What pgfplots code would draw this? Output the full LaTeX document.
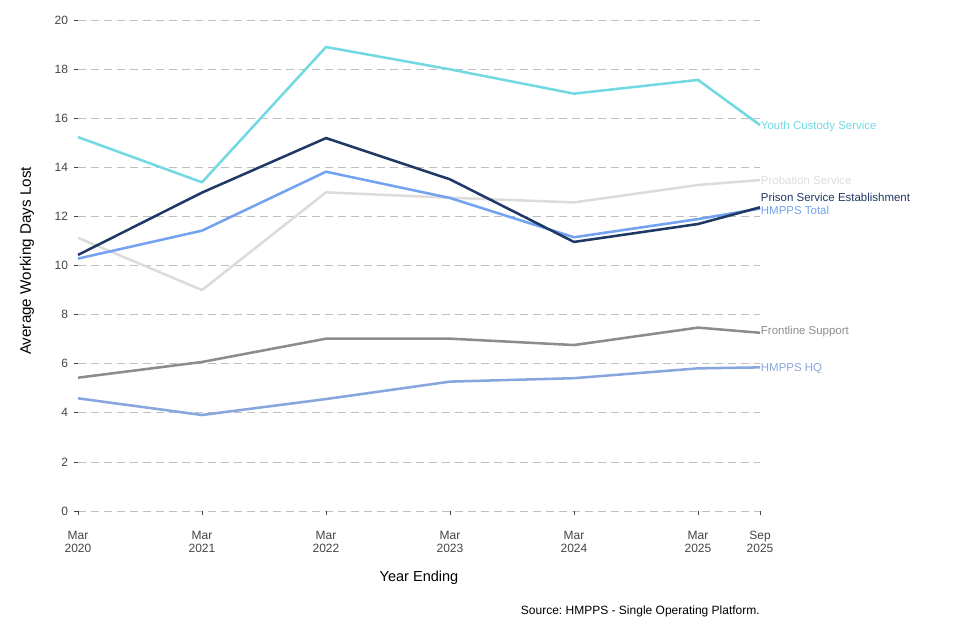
\documentclass[border=0pt]{standalone}
\usepackage{fontspec}
\setmainfont{Liberation Sans}
\usepackage{pgfplots}
\pgfplotsset{compat=1.18}
\frenchspacing

\definecolor{youth}{HTML}{72D9E2}
\definecolor{prison}{HTML}{1F3864}
\definecolor{total}{HTML}{72A2F0}
\definecolor{probation}{HTML}{DCDCDC}
\definecolor{frontline}{HTML}{8C8C8C}
\definecolor{hq}{HTML}{88A6DE}
\definecolor{ticktext}{HTML}{444444}

\begin{document}
\begin{tikzpicture}
\path[use as bounding box] (0,0) rectangle (720pt,480pt);
\begin{axis}[
    at={(58.5pt,96.75pt)}, anchor=south west,
    scale only axis,
    width=511.5pt, height=368.25pt,
    xmin=0, xmax=5.5, ymin=0, ymax=20,
    axis lines=left,
    axis line style={draw=none},
    clip=false,
    xtick={0,1,2,3,4,5,5.5},
    xticklabels={{Mar\\2020},{Mar\\2021},{Mar\\2022},{Mar\\2023},{Mar\\2024},{Mar\\2025},{Sep\\2025}},
    xticklabel style={align=center, yshift=-8.5pt, font=\fontsize{9}{10}\selectfont, text=ticktext},
    ytick={0,2,...,20},
    yticklabel style={xshift=-1pt, font=\fontsize{9}{10}\selectfont, text=ticktext},
    /pgf/number format/assume math mode=true,
    tick align=outside,
    major tick length=3pt,
    tick style={draw=ticktext, line width=0.6pt},
    ymajorgrids,
    grid style={draw=gray!50, line width=0.6pt, dash pattern=on 6pt off 3.75pt},
    every axis plot/.append style={line width=1.9pt, line join=round},
]

\addplot[probation] coordinates {
    (0,11.13) (1,9.00) (2,12.98) (3,12.76) (4,12.57) (5,13.28) (5.5,13.48)
};
\addplot[frontline] coordinates {
    (0,5.43) (1,6.07) (2,7.02) (3,7.02) (4,6.76) (5,7.47) (5.5,7.26)
};
\addplot[hq] coordinates {
    (0,4.59) (1,3.91) (2,4.56) (3,5.27) (4,5.41) (5,5.81) (5.5,5.85)
};
\addplot[total] coordinates {
    (0,10.28) (1,11.42) (2,13.82) (3,12.75) (4,11.15) (5,11.89) (5.5,12.32)
};
\addplot[prison] coordinates {
    (0,10.43) (1,12.97) (2,15.19) (3,13.51) (4,10.96) (5,11.69) (5.5,12.37)
};
\addplot[youth] coordinates {
    (0,15.23) (1,13.39) (2,18.90) (3,17.99) (4,17.00) (5,17.56) (5.5,15.72)
};

\begin{scope}[every node/.style={anchor=west, inner sep=0.5pt, font=\fontsize{8.6}{10}\selectfont}]
\node[text=youth] at (axis cs:5.5,15.68) {Youth Custody Service};
\node[text=probation] at (axis cs:5.5,13.48) {Probation Service};
\node[text=prison] at (axis cs:5.5,12.79) {Prison Service Establishment};
\node[text=total] at (axis cs:5.5,12.26) {HMPPS Total};
\node[text=frontline] at (axis cs:5.5,7.29) {Frontline Support};
\node[text=hq] at (axis cs:5.5,5.82) {HMPPS HQ};
\end{scope}
\end{axis}

\node[rotate=90, font=\fontsize{11.4}{13}\selectfont] at (20.25pt,284.25pt) {Average Working Days Lost};
\node[font=\fontsize{10.9}{12}\selectfont] at (314.25pt,46.5pt) {Year Ending};
\node[anchor=east, inner sep=0pt, font=\fontsize{9}{10}\selectfont] at (570pt,21.75pt) {Source: HMPPS - Single Operating Platform.};
\end{tikzpicture}
\end{document}
